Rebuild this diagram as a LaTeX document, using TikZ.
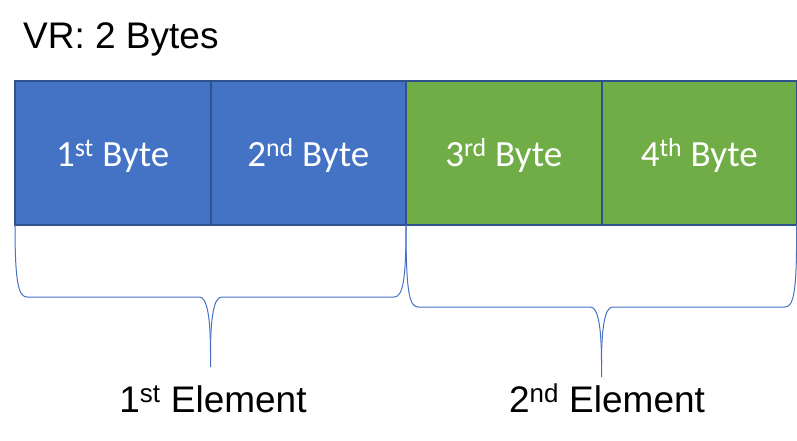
\documentclass[tikz,border=0pt]{standalone}
\usepackage{fontspec}
\setmainfont{Liberation Sans}
\newfontfamily\calib{Carlito}
\usetikzlibrary{calc}
\definecolor{boxblue}{HTML}{4472C4}
\definecolor{boxgreen}{HTML}{70AD47}
\definecolor{edgeblue}{HTML}{2F528F}
\newcommand{\supx}[1]{\textsuperscript{#1}}
\begin{document}
\begin{tikzpicture}[x=1pt,y=-1pt,
  bytebox/.style={anchor=north west,
    minimum width=195.5pt, minimum height=144pt, inner sep=0pt, outer sep=0pt,
    text=white, font=\calib\fontsize{37}{40}\selectfont,
    text height=30pt, text depth=4pt},
  boxedge/.style={draw=edgeblue, line width=2pt},
  brace/.style={draw=boxblue, line width=1pt},
  label/.style={anchor=base, font=\fontsize{37}{40}\selectfont, inner sep=0pt}]
\useasboundingbox (0,0) rectangle (797,441);
\node[anchor=base west, inner sep=0pt, font=\fontsize{37}{40}\selectfont] (title) at (23,49) {VR: 2 Bytes};
\node[bytebox, fill=boxblue] (b1) at (15,81) {1\supx{st} Byte};
\node[bytebox, fill=boxblue] (b2) at (b1.north east) {2\supx{nd} Byte};
\node[bytebox, fill=boxgreen] (b3) at (b2.north east) {3\supx{rd} Byte};
\node[bytebox, fill=boxgreen] (b4) at (b3.north east) {4\supx{th} Byte};
\foreach \b in {b1,b2,b3,b4}
  \draw[boxedge] (\b.north west) rectangle (\b.south east);
% brace 1
\draw[brace] (b1.south west)
  .. controls ($(b1.south west)+(0,55)$) and ($(b1.south west)+(3,72)$) .. ($(b1.south west)+(12,72)$)
  -- ($(b1.south east)+(-11,72)$)
  .. controls ($(b1.south east)+(-3,72)$) and ($(b1.south east)+(0,95)$) .. ($(b1.south east)+(0,128)$)
  -- ($(b1.south east)+(0,142)$);
\draw[brace] ($(b1.south east)+(0,128)$)
  .. controls ($(b1.south east)+(0,95)$) and ($(b1.south east)+(3,72)$) .. ($(b1.south east)+(11,72)$)
  -- ($(b2.south east)+(-12,72)$)
  .. controls ($(b2.south east)+(-3,72)$) and ($(b2.south east)+(0,55)$) .. (b2.south east);
% brace 2
\draw[brace] (b3.south west)
  .. controls ($(b3.south west)+(0,65)$) and ($(b3.south west)+(3,82)$) .. ($(b3.south west)+(12,82)$)
  -- ($(b3.south east)+(-11,82)$)
  .. controls ($(b3.south east)+(-3,82)$) and ($(b3.south east)+(0,105)$) .. ($(b3.south east)+(0,138)$)
  -- ($(b3.south east)+(0,152)$);
\draw[brace] ($(b3.south east)+(0,138)$)
  .. controls ($(b3.south east)+(0,105)$) and ($(b3.south east)+(3,82)$) .. ($(b3.south east)+(11,82)$)
  -- ($(b4.south east)+(-12,82)$)
  .. controls ($(b4.south east)+(-3,82)$) and ($(b4.south east)+(0,65)$) .. ($(b4.south east)+(-0.5,0)$);
\node[label] (e1) at (213,412) {1\supx{st} Element};
\node[label] (e2) at (607,412) {2\supx{nd} Element};
\end{tikzpicture}
\end{document}
